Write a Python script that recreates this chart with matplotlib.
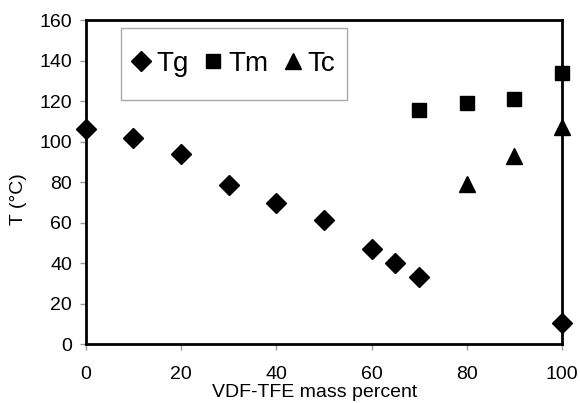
import matplotlib
matplotlib.use("Agg")
import matplotlib.pyplot as plt
from matplotlib.patches import Rectangle

plt.rcParams['font.family'] = ['Liberation Sans', 'DejaVu Sans']

tg_x = [0, 10, 20, 30, 40, 50, 60, 65, 70, 100]
tg_y = [106, 102, 94, 78.5, 69.5, 61.5, 47, 40, 33, 10.5]
tm_x = [70, 80, 90, 100]
tm_y = [115.5, 119, 121, 134]
tc_x = [80, 90, 100]
tc_y = [79, 93, 107]

xticks = [0, 20, 40, 60, 80, 100]
yticks = [0, 20, 40, 60, 80, 100, 120, 140, 160]

fig = plt.figure(figsize=(5.8, 4.03), dpi=100)
ax = fig.add_axes([0.148, 0.1464, 0.821, 0.8036])

ax.plot(tg_x, tg_y, linestyle='none', marker='D', markersize=10.5, color='black', clip_on=False, zorder=5, label='Tg')
ax.plot(tm_x, tm_y, linestyle='none', marker='s', markersize=9.5, color='black', clip_on=False, zorder=5, label='Tm')
ax.plot(tc_x, tc_y, linestyle='none', marker='^', markersize=11.5, color='black', clip_on=False, zorder=5, label='Tc')

ax.set_xlim(0, 100)
ax.set_ylim(0, 160)
ax.set_xticks(xticks)
ax.set_yticks(yticks)
ax.tick_params(direction='out', length=4, width=1, color='#999999', labelsize=14, labelcolor='black')
ax.tick_params(axis='x', pad=11.5)
ax.tick_params(axis='y', pad=6)
for s in ax.spines.values():
    s.set_linewidth(2)
    s.set_color('black')

ax.set_xlabel('VDF-TFE mass percent', fontsize=14)
ax.xaxis.set_label_coords(0.481, -0.122)
ax.set_ylabel('T (°C)', fontsize=14)
ax.yaxis.set_label_coords(-0.124, 0.4475)

# legend box
ax.add_patch(Rectangle((0.0735, 0.753), 0.4745, 0.222, transform=ax.transAxes,
                       facecolor='white', edgecolor='#aaaaaa', linewidth=1, zorder=3, clip_on=False))
leg = ax.legend(loc='center', bbox_to_anchor=(0.311, 0.864), ncol=3, fontsize=20,
                frameon=False, borderpad=0, borderaxespad=0,
                handletextpad=0.25, columnspacing=0.58, handlelength=0.6, markerscale=1.0)
leg.set_zorder(6)

fig.savefig('out.png', dpi=100)
